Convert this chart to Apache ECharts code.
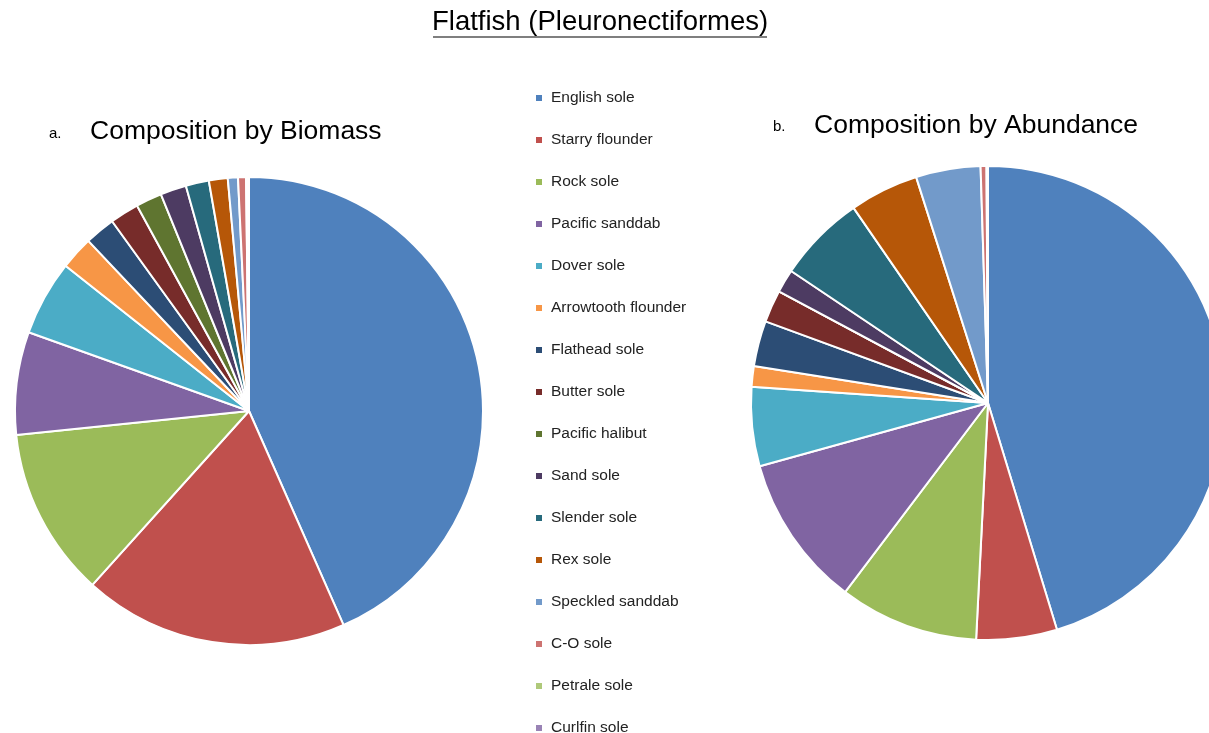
<!DOCTYPE html>
<html>
<head>
<meta charset="utf-8">
<script src="https://cdn.jsdelivr.net/npm/echarts@6/dist/echarts.min.js"></script>
<style>
html,body{margin:0;padding:0;background:#fff;}
#chart{width:1209px;height:733px;}
</style>
</head>
<body>
<div id="chart"></div>
<script>
var species = ['English sole','Starry flounder','Rock sole','Pacific sanddab','Dover sole','Arrowtooth flounder','Flathead sole','Butter sole','Pacific halibut','Sand sole','Slender sole','Rex sole','Speckled sanddab','C-O sole','Petrale sole','Curlfin sole'];
var biomass = [43.4, 18.3, 11.7, 7.1, 5.2, 2.3, 2.1, 2.0, 1.8, 1.8, 1.6, 1.3, 0.7, 0.55, 0.1, 0.1];
var abundance = [45.3, 5.5, 9.5, 10.4, 5.4, 1.4, 3.1, 2.2, 0, 1.6, 6.0, 4.7, 4.4, 0.4, 0.05, 0.05];
var colors = ['#4F81BD','#C0504D','#9BBB59','#8064A2','#4BACC6','#F79646','#2C4D75','#772C2A','#5F7530','#4D3B62','#276A7C','#B65708','#729ACA','#CD7371','#AFC97A','#9983B5'];

var font = 'Liberation Sans, Arial, sans-serif';
function toData(vals){
  return species.map(function(n,i){ return {name:n, value:vals[i]}; });
}
var legendBase = {
  orient:'vertical', left:534, padding:0, height:420,
  itemWidth:8, itemHeight:8, itemGap:22,
  icon:'rect',
  textStyle:{fontFamily:font, fontSize:15.5, color:'#222', lineHeight:20, padding:[0,0,0,3]}
};
var chart = echarts.init(document.getElementById('chart'), null, {renderer:'canvas'});
chart.setOption({
  animation:false,
  color: colors,
  title: [
    {text:'Flatfish (Pleuronectiformes)', left:432, top:8, padding:0, textStyle:{fontFamily:font, fontSize:27.5, fontWeight:'normal', color:'#000'}},
    {text:'a.', left:49, top:126, padding:0, textStyle:{fontFamily:font, fontSize:15, fontWeight:'normal', color:'#000'}},
    {text:'Composition by Biomass', left:90, top:118, padding:0, textStyle:{fontFamily:font, fontSize:26.5, fontWeight:'normal', color:'#000'}},
    {text:'b.', left:773, top:119, padding:0, textStyle:{fontFamily:font, fontSize:15, fontWeight:'normal', color:'#000'}},
    {text:'Composition by Abundance', left:814, top:112, padding:0, textStyle:{fontFamily:font, fontSize:26.5, fontWeight:'normal', color:'#000'}}
  ],
  graphic: [
    {type:'line', shape:{x1:433, y1:37, x2:767, y2:37}, style:{stroke:'#000', lineWidth:1.2}}
  ],
  legend: [
    Object.assign({}, legendBase, {top:88, data: species.slice(0,8)}),
    Object.assign({}, legendBase, {top:424, data: species.slice(8)})
  ],
  series: [
    {type:'pie', center:[249,411], radius:[0,234], startAngle:90, clockwise:true,
     label:{show:false}, labelLine:{show:false}, avoidLabelOverlap:false,
     itemStyle:{borderColor:'#fff', borderWidth:2}, emphasis:{disabled:true},
     data: toData(biomass)},
    {type:'pie', center:[988,403], radius:[0,237], startAngle:90, clockwise:true,
     label:{show:false}, labelLine:{show:false}, avoidLabelOverlap:false,
     itemStyle:{borderColor:'#fff', borderWidth:2}, emphasis:{disabled:true},
     data: toData(abundance)}
  ]
});
</script>
</body>
</html>
